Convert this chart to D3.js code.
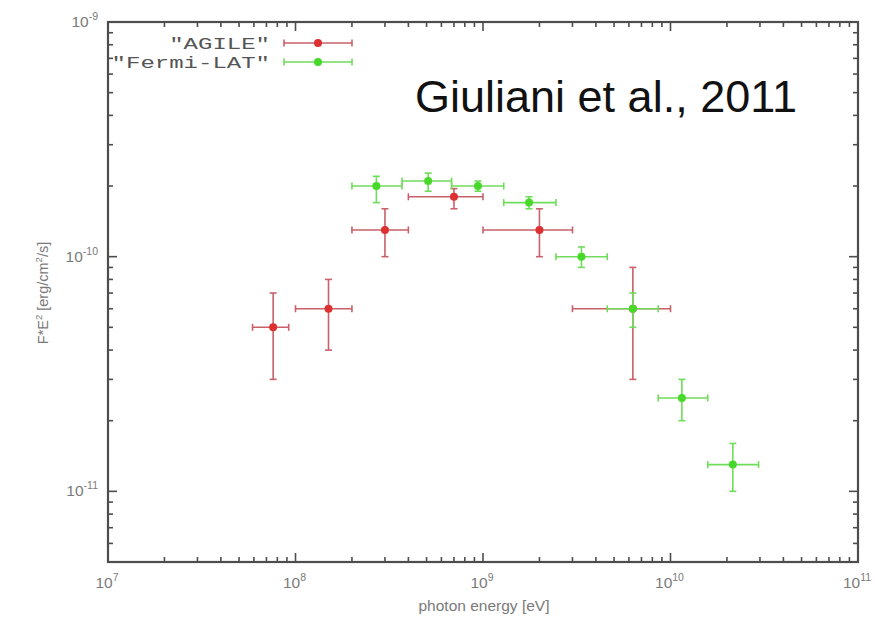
<!DOCTYPE html>
<html>
<head>
<meta charset="utf-8">
<script src="https://cdn.jsdelivr.net/npm/d3@7"></script>
<style>
  html, body { margin: 0; padding: 0; background: #fff; }
  svg { display: block; }
</style>
</head>
<body>
<svg id="chart" width="875" height="620"></svg>
<script>
// Spectral energy distribution: photon energy (eV) vs F*E^2 (erg/cm^2/s)

// AGILE points: energy, energy bin edges, flux and flux error range
const agileE    = [7.6e7, 1.5e8, 3.0e8, 7.0e8, 2.0e9, 6.3e9];
const agileElo  = [5.9e7, 1.0e8, 2.0e8, 4.0e8, 1.0e9, 3.0e9];
const agileEhi  = [9.2e7, 2.0e8, 4.0e8, 1.0e9, 3.0e9, 1.0e10];
const agileF    = [5.0e-11, 6.0e-11, 1.3e-10, 1.8e-10, 1.3e-10, 6.0e-11];
const agileFlo  = [3.0e-11, 4.0e-11, 1.0e-10, 1.6e-10, 1.0e-10, 3.0e-11];
const agileFhi  = [7.0e-11, 8.0e-11, 1.6e-10, 1.95e-10, 1.6e-10, 9.0e-11];

// Fermi-LAT points
const fermiE    = [2.7e8, 5.1e8, 9.4e8, 1.76e9, 3.35e9, 6.3e9, 1.15e10, 2.15e10];
const fermiElo  = [2.0e8, 3.7e8, 6.8e8, 1.29e9, 2.45e9, 4.6e9, 8.6e9, 1.58e10];
const fermiEhi  = [3.7e8, 6.8e8, 1.29e9, 2.45e9, 4.6e9, 8.6e9, 1.58e10, 2.95e10];
const fermiF    = [2.0e-10, 2.1e-10, 2.0e-10, 1.7e-10, 1.0e-10, 6.0e-11, 2.5e-11, 1.3e-11];
const fermiFlo  = [1.7e-10, 1.9e-10, 1.9e-10, 1.6e-10, 9.0e-11, 5.0e-11, 2.0e-11, 1.0e-11];
const fermiFhi  = [2.2e-10, 2.27e-10, 2.1e-10, 1.8e-10, 1.1e-10, 7.0e-11, 3.0e-11, 1.6e-11];

// Axis ranges and decade tick labels (exponents)
const xDomain = [1e7, 1e11];
const yDomain = [5e-12, 1e-9];
const xTickExp = ["7", "8", "9", "10", "11"];
const yTickExp = ["-11", "-10", "-9"];

const seriesNames = ['"AGILE"', '"Fermi-LAT"'];

const margin = { left: 108, right: 17, top: 22, bottom: 58 };
const W = 875, H = 620;
const svg = d3.select("#chart");

const x = d3.scaleLog().domain(xDomain).range([margin.left, W - margin.right]);
const y = d3.scaleLog().domain(yDomain).range([H - margin.bottom, margin.top]);

const frameColor = "#4d4d4d";
const labelColor = "#7a7a7a";

// Tick values (majors at decades, minors at 2..9)
function logTicks(domain) {
  const lo = Math.floor(Math.log10(domain[0])), hi = Math.ceil(Math.log10(domain[1]));
  const major = [], minor = [];
  for (let k = lo; k <= hi; k++) {
    const base = Math.pow(10, k);
    if (base >= domain[0] * 0.999 && base <= domain[1] * 1.001) major.push(base);
    for (let m = 2; m <= 9; m++) {
      const v = m * base;
      if (v >= domain[0] * 0.999 && v <= domain[1] * 1.001) minor.push(v);
    }
  }
  return { major, minor };
}
const xt = logTicks(xDomain), yt = logTicks(yDomain);

const majorLen = 9, minorLen = 5;
const ticks = svg.append("g").attr("stroke", frameColor).attr("stroke-width", 1.6);
const [x0, x1] = x.range(), [y0, y1] = [y.range()[1], y.range()[0]];

// x ticks on bottom and top, pointing inward
[[xt.major, majorLen], [xt.minor, minorLen]].forEach(([vals, len]) => {
  vals.forEach(v => {
    ticks.append("line").attr("x1", x(v)).attr("x2", x(v)).attr("y1", y1).attr("y2", y1 - len);
    ticks.append("line").attr("x1", x(v)).attr("x2", x(v)).attr("y1", y0).attr("y2", y0 + len);
  });
});
// y ticks on left and right
[[yt.major, majorLen], [yt.minor, minorLen]].forEach(([vals, len]) => {
  vals.forEach(v => {
    ticks.append("line").attr("y1", y(v)).attr("y2", y(v)).attr("x1", x0).attr("x2", x0 + len);
    ticks.append("line").attr("y1", y(v)).attr("y2", y(v)).attr("x1", x1).attr("x2", x1 - len);
  });
});

// Plot frame
svg.append("rect")
  .attr("x", x0).attr("y", y0).attr("width", x1 - x0).attr("height", y1 - y0)
  .attr("fill", "none").attr("stroke", frameColor).attr("stroke-width", 2.2);

const fontSans = "'Liberation Sans', Arial, Helvetica, sans-serif";

// x tick labels: 10^n
xTickExp.forEach(e => {
  const t = svg.append("text")
    .attr("x", x(Math.pow(10, +e)) - 1).attr("y", y1 + 26)
    .attr("text-anchor", "middle")
    .attr("font-family", fontSans).attr("font-size", 15.5).attr("fill", labelColor);
  t.append("tspan").text("10");
  t.append("tspan").attr("font-size", 10.5).attr("dy", -7).text(e);
});

// y tick labels: 10^n
yTickExp.forEach(e => {
  const t = svg.append("text")
    .attr("x", x0 - 10).attr("y", y(Math.pow(10, +e)) + 5)
    .attr("text-anchor", "end")
    .attr("font-family", fontSans).attr("font-size", 15.5).attr("fill", labelColor);
  t.append("tspan").text("10");
  t.append("tspan").attr("font-size", 10.5).attr("dy", -7).text(e);
});

// Axis titles
svg.append("text")
  .attr("x", (x0 + x1) / 2 + 1).attr("y", 611)
  .attr("text-anchor", "middle")
  .attr("font-family", fontSans).attr("font-size", 15.5).attr("fill", labelColor)
  .text("photon energy [eV]");

const yl = svg.append("text")
  .attr("transform", `translate(48, 293) rotate(-90)`)
  .attr("text-anchor", "middle")
  .attr("font-family", fontSans).attr("font-size", 14.5).attr("fill", labelColor);
yl.append("tspan").text("F*E");
yl.append("tspan").attr("font-size", 9.5).attr("dy", -6).text("2");
yl.append("tspan").attr("dy", 6).text(" [erg/cm");
yl.append("tspan").attr("font-size", 9.5).attr("dy", -6).text("2");
yl.append("tspan").attr("dy", 6).text("/s]");

// Error-bar series
const cap = 3.5;
function drawSeries(E, Elo, Ehi, F, Flo, Fhi, barColor, dotColor) {
  const rows = E.map((e, i) => ({ e, elo: Elo[i], ehi: Ehi[i], f: F[i], flo: Flo[i], fhi: Fhi[i] }));
  const g = svg.append("g");
  const pts = g.selectAll("g.pt").data(rows).join("g").attr("class", "pt");
  pts.append("line").attr("stroke", barColor).attr("stroke-width", 1.6)
    .attr("x1", d => x(d.elo)).attr("x2", d => x(d.ehi))
    .attr("y1", d => y(d.f)).attr("y2", d => y(d.f));
  pts.append("line").attr("stroke", barColor).attr("stroke-width", 1.6)
    .attr("x1", d => x(d.e)).attr("x2", d => x(d.e))
    .attr("y1", d => y(d.flo)).attr("y2", d => y(d.fhi));
  // end caps
  ["elo", "ehi"].forEach(k => {
    pts.append("line").attr("stroke", barColor).attr("stroke-width", 1.6)
      .attr("x1", d => x(d[k])).attr("x2", d => x(d[k]))
      .attr("y1", d => y(d.f) - cap).attr("y2", d => y(d.f) + cap);
  });
  ["flo", "fhi"].forEach(k => {
    pts.append("line").attr("stroke", barColor).attr("stroke-width", 1.6)
      .attr("x1", d => x(d.e) - cap).attr("x2", d => x(d.e) + cap)
      .attr("y1", d => y(d[k])).attr("y2", d => y(d[k]));
  });
  pts.append("circle").attr("cx", d => x(d.e)).attr("cy", d => y(d.f))
    .attr("r", 4).attr("fill", dotColor);
}

const agileBar = "#c9606a", agileDot = "#dd3030";
const fermiBar = "#6fdc5a", fermiDot = "#47d92a";

drawSeries(agileE, agileElo, agileEhi, agileF, agileFlo, agileFhi, agileBar, agileDot);
drawSeries(fermiE, fermiElo, fermiEhi, fermiF, fermiFlo, fermiFhi, fermiBar, fermiDot);

// Legend
const legend = [
  { name: seriesNames[0], bar: agileBar, dot: agileDot, y: 43 },
  { name: seriesNames[1], bar: fermiBar, dot: fermiDot, y: 62 }
];
legend.forEach(L => {
  svg.append("text")
    .attr("x", 270).attr("y", L.y + 5.5)
    .attr("text-anchor", "end")
    .attr("font-family", "'Liberation Mono', 'Courier New', monospace")
    .attr("font-size", 16.5).attr("fill", "#555")
    .attr("textLength", L.name.length * 14.4)
    .attr("lengthAdjust", "spacingAndGlyphs")
    .text(L.name);
  const g = svg.append("g").attr("stroke", L.bar).attr("stroke-width", 1.6);
  g.append("line").attr("x1", 284).attr("x2", 352).attr("y1", L.y).attr("y2", L.y);
  g.append("line").attr("x1", 284).attr("x2", 284).attr("y1", L.y - cap).attr("y2", L.y + cap);
  g.append("line").attr("x1", 352).attr("x2", 352).attr("y1", L.y - cap).attr("y2", L.y + cap);
  svg.append("circle").attr("cx", 318).attr("cy", L.y).attr("r", 4).attr("fill", L.dot);
});

// Citation
svg.append("text")
  .attr("x", 415).attr("y", 112)
  .attr("font-family", "'Liberation Sans', Arial, Helvetica, sans-serif")
  .attr("font-size", 45).attr("fill", "#111")
  .text("Giuliani et al., 2011");
</script>
</body>
</html>
